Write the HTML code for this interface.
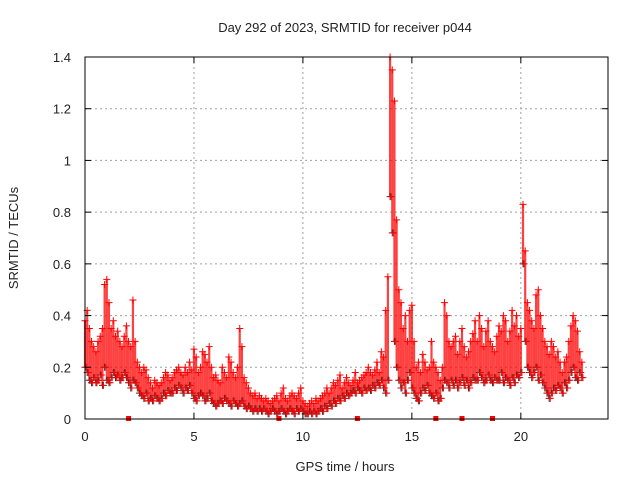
<!DOCTYPE html>
<html><head><meta charset="utf-8"><style>
body{margin:0;background:#fff}
svg text{font-family:"Liberation Sans",sans-serif;font-size:13px;fill:#222}
</style></head><body>
<svg id="chart" width="640" height="480" xmlns="http://www.w3.org/2000/svg">
<rect width="640" height="480" fill="#fff"/>
<text x="345" y="32" text-anchor="middle" font-size="14">Day 292 of 2023, SRMTID for receiver p044</text>
<text transform="translate(18,238) rotate(-90)" text-anchor="middle" font-size="14">SRMTID / TECUs</text>
<text x="345" y="471" text-anchor="middle" font-size="14">GPS time / hours</text>
<g id="grid"></g><g id="marks"></g><g id="axes"></g>
</svg>
<script>
const xTicks=[0,5,10,15,20];
const yTicks=[0,0.2,0.4,0.6,0.8,1,1.2,1.4];
const yTickLabels=["0","0.2","0.4","0.6","0.8","1","1.2","1.4"];
const upper=[.38,.42,.35,.30,.28,.26,.30,.32,.35,.52,
.54,.45,.35,.38,.32,.34,.30,.28,.32,.36,
.30,.28,.46,.30,.22,.20,.18,.20,.19,.16,
.14,.12,.15,.14,.13,.14,.16,.18,.17,.15,
.16,.18,.19,.20,.18,.17,.20,.18,.22,.19,
.27,.24,.18,.20,.26,.25,.22,.28,.20,.16,
.17,.15,.14,.20,.18,.16,.24,.22,.18,.16,
.20,.35,.28,.16,.14,.12,.10,.09,.10,.08,
.09,.08,.07,.08,.07,.06,.07,.08,.09,.07,
.10,.12,.08,.07,.09,.10,.09,.08,.10,.12,
.07,.06,.05,.06,.07,.06,.08,.07,.08,.09,
.10,.12,.10,.12,.14,.13,.15,.17,.12,.14,
.16,.14,.13,.15,.18,.14,.15,.16,.17,.18,
.20,.18,.17,.19,.22,.18,.26,.24,.42,.55,
1.40,1.35,1.23,.77,.50,.45,.35,.40,.30,.42,
.44,.30,.20,.22,.18,.25,.22,.19,.20,.30,
.22,.20,.18,.15,.20,.45,.40,.30,.28,.30,
.32,.25,.30,.35,.28,.24,.26,.30,.33,.38,
.30,.40,.35,.28,.34,.38,.30,.28,.26,.32,
.36,.34,.40,.38,.30,.34,.42,.36,.40,.32,
.35,.83,.65,.45,.42,.38,.35,.48,.50,.40,
.35,.30,.28,.25,.30,.28,.24,.26,.22,.18,
.22,.24,.30,.36,.40,.38,.34,.26,.22];
const lower=[.20,.18,.15,.14,.16,.14,.15,.17,.13,.20,
.15,.14,.16,.18,.16,.17,.15,.16,.18,.16,
.14,.12,.15,.14,.12,.10,.09,.08,.10,.07,
.08,.07,.09,.08,.07,.08,.10,.09,.11,.10,
.10,.12,.11,.13,.12,.10,.12,.11,.13,.10,
.08,.07,.09,.10,.09,.07,.08,.10,.07,.06,
.05,.06,.07,.06,.08,.07,.06,.05,.07,.06,
.05,.06,.07,.05,.04,.05,.04,.03,.04,.03,
.04,.03,.04,.03,.02,.03,.04,.03,.02,.03,
.04,.03,.02,.03,.04,.03,.02,.04,.03,.04,
.03,.02,.02,.03,.02,.03,.02,.03,.04,.03,
.05,.04,.06,.05,.07,.06,.08,.07,.09,.08,
.10,.09,.10,.11,.10,.12,.11,.10,.12,.11,
.12,.11,.13,.12,.14,.13,.15,.12,.10,.15,
.86,.72,.30,.20,.15,.12,.14,.10,.15,.18,
.12,.10,.08,.07,.10,.12,.11,.13,.10,.09,
.08,.10,.07,.08,.12,.15,.14,.12,.15,.13,
.15,.12,.14,.16,.13,.15,.12,.14,.16,.15,
.15,.18,.16,.14,.15,.17,.15,.14,.16,.15,
.15,.18,.14,.16,.15,.13,.16,.14,.17,.16,
.18,.60,.30,.20,.18,.16,.18,.20,.15,.17,
.14,.12,.10,.08,.10,.12,.11,.13,.12,.10,
.14,.12,.15,.18,.20,.16,.15,.18,.16];
const zeroFlags=[2.0,8.9,12.5,16.1,17.3,18.7];
const step=0.1;
const X0=85,X1=608,Y0=419,Y1=57,XMAX=24,YMAX=1.4;
const xs=h=>X0+h/XMAX*(X1-X0);
const ys=v=>Y0-v/YMAX*(Y0-Y1);
const NS="http://www.w3.org/2000/svg";
function mk(t,a,p){const e=document.createElementNS(NS,t);for(const k in a)e.setAttribute(k,a[k]);p.appendChild(e);return e;}
const grid=document.getElementById('grid'),axes=document.getElementById('axes'),marks=document.getElementById('marks');
xTicks.forEach(t=>{
 const l=mk('line',{x1:xs(t),x2:xs(t),y1:Y1,y2:Y0,stroke:'#a0a0a0','stroke-dasharray':'2,3'},grid);
 
 
 mk('line',{x1:xs(t),x2:xs(t),y1:Y0,y2:Y0-6,stroke:'#000'},axes);
 mk('line',{x1:xs(t),x2:xs(t),y1:Y1,y2:Y1+6,stroke:'#000'},axes);
 const tx=mk('text',{x:xs(t),y:Y0+22,'text-anchor':'middle'},axes);tx.textContent=t;
 
 
});
yTicks.forEach((t,i)=>{
 const l=mk('line',{x1:X0,x2:X1,y1:ys(t),y2:ys(t),stroke:'#a0a0a0','stroke-dasharray':'2,3'},grid);
 
 
 mk('line',{x1:X0,x2:X0+6,y1:ys(t),y2:ys(t),stroke:'#000'},axes);
 mk('line',{x1:X1,x2:X1-6,y1:ys(t),y2:ys(t),stroke:'#000'},axes);
 const tx=mk('text',{x:X0-14,y:ys(t)+5,'text-anchor':'end'},axes);tx.textContent=yTickLabels[i];
 
 
});
const fr=mk('rect',{x:X0,y:Y1,width:X1-X0,height:Y0-Y1,fill:'none',stroke:'#000'},axes);


upper.forEach((v,i)=>{
 const x=xs(i*step);
 const s=mk('line',{x1:x,x2:x,y1:ys(v),y2:ys(lower[i]),stroke:'#ff0000','stroke-width':2.2,'stroke-opacity':0.75},marks);
 
 
});
function plus(h,v,c,name){
 const x=xs(h),y=ys(v);
 const p=mk('path',{d:`M${x-3.5},${y}h7M${x},${y-3.5}v7`,stroke:c,'stroke-width':1},marks);
 
 
}
lower.forEach((v,i)=>{plus(i*step,v,'#333','srmtid-point-black');});
upper.forEach((v,i)=>{plus(i*step,v,'#ff0000','srmtid-point');});
lower.forEach((v,i)=>{plus(i*step+0.05,v,'#ff0000','srmtid-point');});
zeroFlags.forEach(h=>{
 const r=mk('rect',{x:xs(h)-2.5,y:Y0-3,width:5,height:5,fill:'#ff0000'},marks);
 
 
});
</script>
</body></html>
